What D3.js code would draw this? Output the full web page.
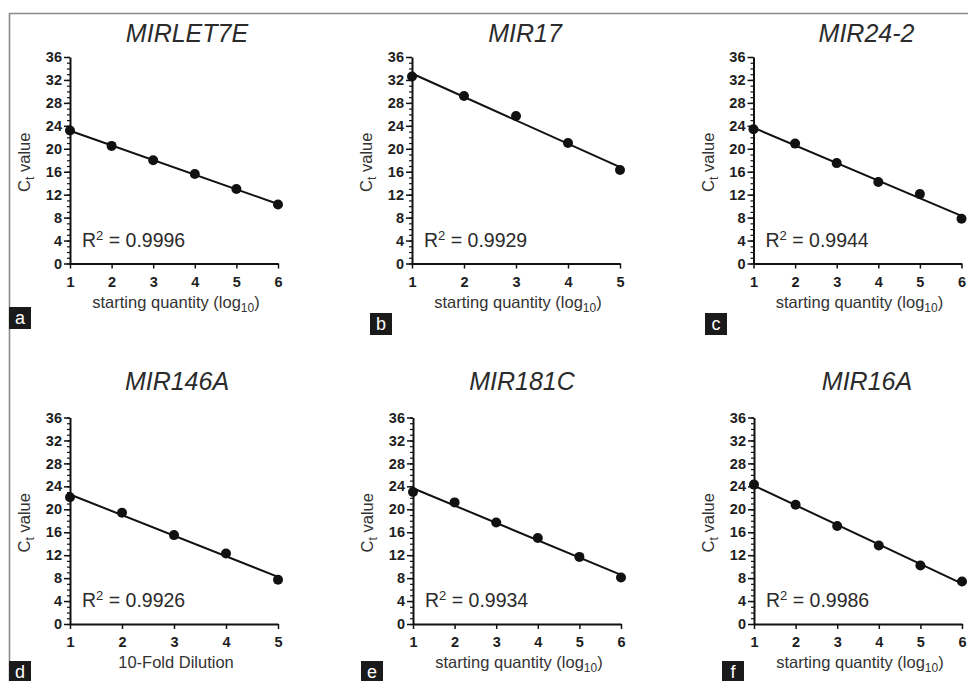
<!DOCTYPE html>
<html>
<head>
<meta charset="utf-8">
<script src="https://cdn.jsdelivr.net/npm/d3@7"></script>
<style>
  body { margin: 0; background: #fff; }
  svg { display: block; font-family: "Liberation Sans", Arial, sans-serif; }
</style>
</head>
<body>
<div id="chart"></div>
<script>
// Standard curves for six miRNA assays (Ct vs dilution)

// Data
const panelLetters = ["a", "b", "c", "d", "e", "f"];
const geneNames = ["MIRLET7E", "MIR17", "MIR24-2", "MIR146A", "MIR181C", "MIR16A"];
const dilutionsSix = [1, 2, 3, 4, 5, 6];
const dilutionsFive = [1, 2, 3, 4, 5];
const ctLet7e = [23.2, 20.5, 18.0, 15.6, 13.0, 10.3];
const ctMir17 = [32.6, 29.2, 25.7, 21.0, 16.3];
const ctMir24 = [23.4, 20.9, 17.5, 14.2, 12.1, 7.8];
const ctMir146 = [22.1, 19.4, 15.5, 12.3, 7.7];
const ctMir181 = [23.0, 21.2, 17.7, 15.0, 11.7, 8.1];
const ctMir16 = [24.3, 20.8, 17.1, 13.7, 10.2, 7.4];
const rSquared = ["0.9996", "0.9929", "0.9944", "0.9926", "0.9934", "0.9986"];
const xTitles = ["starting quantity", "starting quantity", "starting quantity",
                 "10-Fold Dilution", "starting quantity", "starting quantity"];
const yTicks = [0, 4, 8, 12, 16, 20, 24, 28, 32, 36];

const dilutions = [dilutionsSix, dilutionsFive, dilutionsSix, dilutionsFive, dilutionsSix, dilutionsSix];
const ctValues = [ctLet7e, ctMir17, ctMir24, ctMir146, ctMir181, ctMir16];

// Layout of each panel (pixel position of the y axis and the top of the plot)
const layout = [
    {left: 70, top: 57, titleDx: 117, boxX: 9, boxY: 307},
    {left: 412, top: 57, titleDx: 113, boxX: 370, boxY: 313},
    {left: 753.5, top: 57, titleDx: 113, boxX: 705, boxY: 313},
    {left: 70, top: 417.5, titleDx: 107, boxX: 9, boxY: 661},
    {left: 413, top: 417.5, titleDx: 109, boxX: 361, boxY: 661},
    {left: 754, top: 417.5, titleDx: 113, boxX: 722, boxY: 661}
];
const plotWidth = 208,
    plotHeight = 206.5;

const svg = d3.select("#chart")
    .append("svg")
    .attr("width", 968)
    .attr("height", 681);

// Frame (only top and left edges visible in the crop)
svg.append("path")
    .attr("d", "M9.5,681 V13.5 H968")
    .attr("fill", "none")
    .attr("stroke", "#8a8a8a")
    .attr("stroke-width", 1.6);

// Simple least squares fit
function fit(xs, ys) {
    let mx = d3.mean(xs), my = d3.mean(ys);
    let sxy = d3.sum(xs, (x, i) => (x - mx) * (ys[i] - my));
    let sxx = d3.sum(xs, (x) => (x - mx) * (x - mx));
    let slope = sxy / sxx;
    return {slope: slope, intercept: my - slope * mx};
}

panelLetters.forEach(function (letter, i) {
    let pos = layout[i];
    let xs = dilutions[i], ys = ctValues[i];
    let data = xs.map((x, j) => ({x: x, y: ys[j]}));

    let x = d3.scaleLinear()
        .domain([1, d3.max(xs)])
        .range([0, plotWidth]);
    let y = d3.scaleLinear()
        .domain([0, 36])
        .range([plotHeight, 0]);

    let g = svg.append("g")
        .attr("transform", `translate(${pos.left}, ${pos.top})`);

    // Title
    g.append("text")
        .attr("x", pos.titleDx)
        .attr("y", i < 3 ? -15 : -28)
        .attr("text-anchor", "middle")
        .attr("font-size", 25)
        .attr("font-style", "italic")
        .attr("fill", "#2b2b2b")
        .text(geneNames[i]);

    // Minor y ticks every unit
    g.append("g")
        .call(d3.axisLeft(y).tickValues(d3.range(0, 37)).tickSize(3).tickFormat(""))
        .call((a) => a.select(".domain").remove())
        .selectAll("line").attr("stroke", "#111").attr("stroke-width", 1.2);

    // Y axis
    let yAxis = g.append("g")
        .call(d3.axisLeft(y).tickValues(yTicks).tickSize(6).tickPadding(2).tickSizeOuter(0));
    yAxis.select(".domain").attr("stroke", "#111").attr("stroke-width", 2);
    yAxis.selectAll("line").attr("stroke", "#111").attr("stroke-width", 1.5);
    yAxis.selectAll("text")
        .attr("font-size", 14.5)
        .attr("font-weight", "bold")
        .attr("font-family", "'Liberation Sans', Arial, sans-serif")
        .attr("fill", "#1e1e1e");

    // X axis
    let xAxis = g.append("g")
        .attr("transform", `translate(0, ${plotHeight})`)
        .call(d3.axisBottom(x).tickValues(xs).tickSize(5).tickPadding(8).tickSizeOuter(0)
            .tickFormat(d3.format("d")));
    xAxis.select(".domain").attr("stroke", "#111").attr("stroke-width", 2);
    xAxis.selectAll("line").attr("stroke", "#111").attr("stroke-width", 1.5);
    xAxis.selectAll("text")
        .attr("font-size", 14.5)
        .attr("font-weight", "bold")
        .attr("font-family", "'Liberation Sans', Arial, sans-serif")
        .attr("fill", "#1e1e1e");

    // X axis title
    let xt = g.append("text")
        .attr("x", plotWidth / 2 + 2)
        .attr("y", plotHeight + 44)
        .attr("text-anchor", "middle")
        .attr("font-size", 16.5)
        .attr("fill", "#333")
        .text(xTitles[i]);
    if (xTitles[i] === "starting quantity") {
        xt.append("tspan").text(" (log");
        xt.append("tspan").attr("dy", 4).attr("font-size", 12).text("10");
        xt.append("tspan").attr("dy", -4).text(")");
    }

    // Y axis title (C subscript t value)
    let yt = g.append("text")
        .attr("transform", `translate(-40, ${plotHeight / 2 + 2}) rotate(-90)`)
        .attr("text-anchor", "middle")
        .attr("font-size", 16.5)
        .attr("fill", "#333");
    yt.append("tspan").text("C");
    yt.append("tspan").attr("dy", 4).attr("font-size", 12).text("t");
    yt.append("tspan").attr("dy", -4).text(" value");

    // Regression line
    let f = fit(xs, ys);
    let ends = [d3.min(xs), d3.max(xs)];
    g.append("path")
        .datum(ends.map((d) => ({x: d, y: f.intercept + f.slope * d})))
        .attr("fill", "none")
        .attr("stroke", "#111")
        .attr("stroke-width", 2)
        .attr("d", d3.line().x((d) => x(d.x)).y((d) => y(d.y)));

    // Points
    g.selectAll("circle")
        .data(data)
        .join("circle")
        .attr("cx", (d) => x(d.x))
        .attr("cy", (d) => y(d.y))
        .attr("r", 5)
        .attr("fill", "#111");

    // R squared label
    let rt = g.append("text")
        .attr("x", 12)
        .attr("y", y(2.9))
        .attr("font-size", 19.5)
        .attr("fill", "#2b2b2b");
    rt.append("tspan").text("R");
    rt.append("tspan").attr("dy", -7).attr("font-size", 13).text("2");
    rt.append("tspan").attr("dy", 7).text(" = " + rSquared[i]);

    // Panel letter box
    svg.append("rect")
        .attr("x", pos.boxX)
        .attr("y", pos.boxY)
        .attr("width", 22)
        .attr("height", 22)
        .attr("fill", "#1a1a1a");
    svg.append("text")
        .attr("x", pos.boxX + 11)
        .attr("y", pos.boxY + 17)
        .attr("text-anchor", "middle")
        .attr("font-size", 18)
        .attr("fill", "#fff")
        .text(letter);
});
</script>
</body>
</html>
